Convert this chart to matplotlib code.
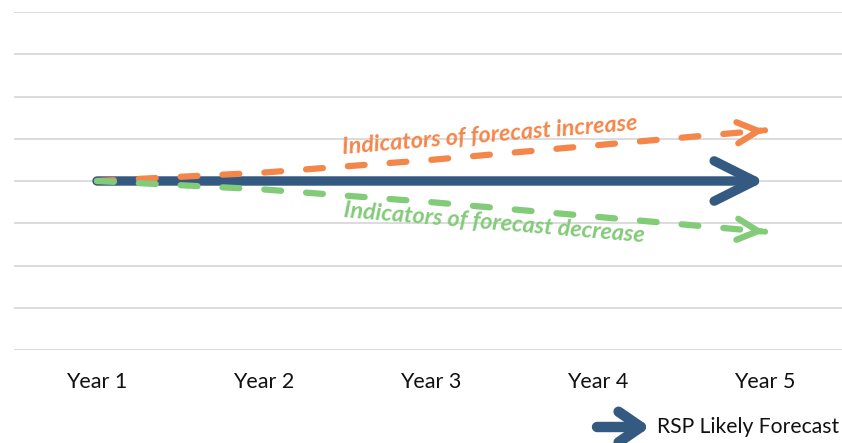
import numpy as np
import matplotlib.pyplot as plt

YEARS = ['Year 1', 'Year 2', 'Year 3', 'Year 4', 'Year 5']
LIKELY = [4.0, 4.0, 4.0, 4.0, 4.0]
INCREASE = [4.0, 4.2, 4.5, 4.85, 5.2]
DECREASE = [4.0, 3.8, 3.5, 3.15, 2.8]

BLUE = '#355a82'
ORANGE = '#f5864a'
GREEN = '#82cb78'
GRID = '#d9d9d9'
FONT = 'Lato'


def arrow_head(ax, xs, ys, color, lw, hl, hw):
    # open chevron at the last point, pointing along the last segment
    x0, y0 = xs[-2], ys[-2]
    x1, y1 = xs[-1], ys[-1]
    t = 0.02
    ax.annotate('', xy=(x1, y1), xytext=(x1 - t * (x1 - x0), y1 - t * (y1 - y0)),
                arrowprops=dict(arrowstyle='->,head_length=%s,head_width=%s' % (hl, hw),
                                lw=lw, color=color, shrinkA=0, shrinkB=0,
                                capstyle='round', joinstyle='round'))


fig = plt.figure(figsize=(8.42, 4.43), dpi=100)
ax = fig.add_axes([13.5 / 842, 1 - 350 / 443, 835 / 842, (350 - 12) / 443])

x = np.arange(len(YEARS))
ax.set_xlim(-0.5, len(YEARS) - 0.5)
ax.set_ylim(0, 8)
ax.set_yticks(np.arange(0, 9))
ax.yaxis.grid(True, color=GRID, lw=1.3)
ax.set_axisbelow(True)
ax.tick_params(left=False, labelleft=False, bottom=False, pad=12)
for s in ax.spines.values():
    s.set_visible(False)
ax.set_xticks(x)
ax.set_xticklabels(YEARS, fontsize=15.5, fontfamily=FONT, color='#111111')

# solid likely-forecast arrow, drawn whole so the cap doesn't poke past the tip
ax.annotate('', xy=(x[-1], LIKELY[-1]), xytext=(x[0], LIKELY[0]),
            arrowprops=dict(arrowstyle='->,head_length=2.9,head_width=1.45',
                            lw=6.8, color=BLUE, shrinkA=0, shrinkB=0,
                            capstyle='round', joinstyle='round'), zorder=3)

for ys, c in [(INCREASE, ORANGE), (DECREASE, GREEN)]:
    ax.plot(x, ys, color=c, lw=4.5, dashes=(2.7, 4.0), dash_capstyle='round', zorder=4)
    arrow_head(ax, x, ys, c, 4.5, 1.5, 0.76)

ax.text(2.35, 5.09, 'Indicators of forecast increase', color=ORANGE, fontsize=16.8,
        fontfamily=FONT, fontweight='bold', fontstyle='italic', rotation=4.7,
        ha='center', va='center', rotation_mode='anchor')
ax.text(2.38, 3.01, 'Indicators of forecast decrease', color=GREEN, fontsize=16.8,
        fontfamily=FONT, fontweight='bold', fontstyle='italic', rotation=-4.8,
        ha='center', va='center', rotation_mode='anchor')

# legend entry
ax.annotate('', xy=(650, 16), xytext=(597, 16), xycoords='figure pixels',
            textcoords='figure pixels', annotation_clip=False,
            arrowprops=dict(arrowstyle='->,head_length=1.6,head_width=1.1', lw=7.5,
                            color=BLUE, shrinkA=0, shrinkB=0,
                            capstyle='round', joinstyle='round'))
fig.text(657 / 842, 16 / 443, 'RSP Likely Forecast', fontsize=15.2, fontfamily=FONT,
         color='#111111', ha='left', va='center')

fig.savefig('out.png', dpi=100)
